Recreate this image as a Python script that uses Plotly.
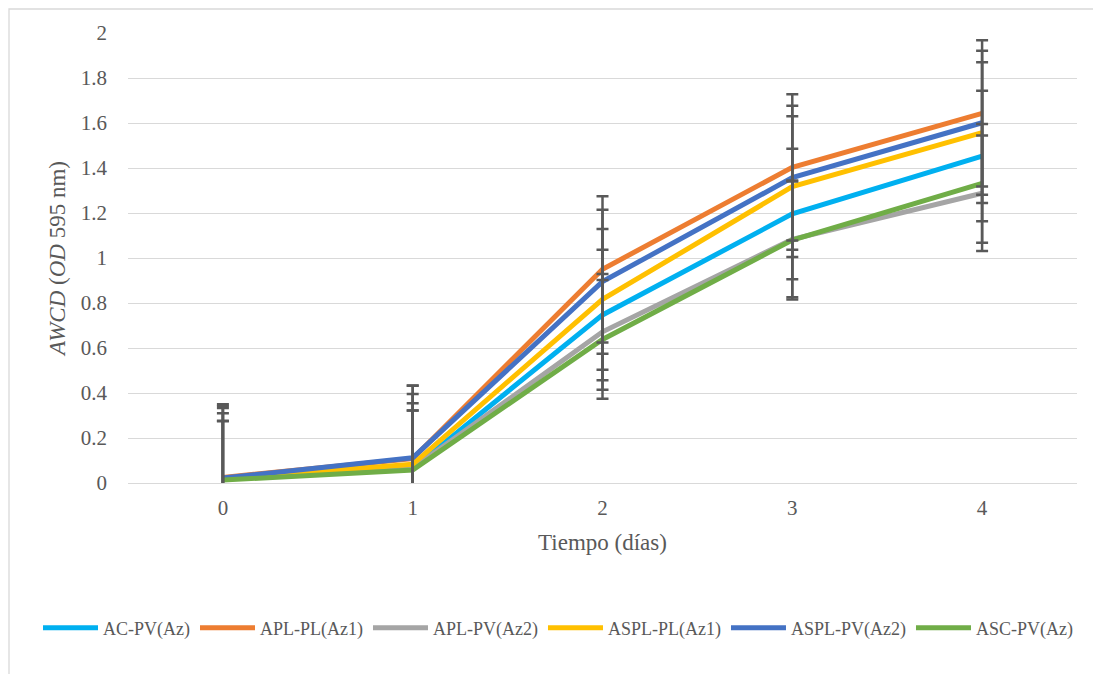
import plotly.graph_objects as go

days = ["0", "1", "2", "3", "4"]
series_names = ["AC-PV(Az)", "APL-PL(Az1)", "APL-PV(Az2)", "ASPL-PL(Az1)", "ASPL-PV(Az2)", "ASC-PV(Az)"]
colors = ["#00B0F0", "#ED7D31", "#A5A5A5", "#FFC000", "#4472C4", "#70AD47"]

ac_pv = [0.020, 0.065, 0.747, 1.196, 1.453]
apl_pl = [0.025, 0.108, 0.950, 1.403, 1.643]
apl_pv = [0.018, 0.065, 0.672, 1.083, 1.288]
aspl_pl = [0.020, 0.083, 0.816, 1.317, 1.557]
aspl_pv = [0.022, 0.112, 0.895, 1.357, 1.601]
asc_pv = [0.013, 0.058, 0.638, 1.080, 1.332]

err_ac_pv = [0.290] * 5
err_apl_pl = [0.325] * 5
err_apl_pv = [0.257] * 5
err_aspl_pl = [0.313] * 5
err_aspl_pv = [0.320] * 5
err_asc_pv = [0.264] * 5

values = [ac_pv, apl_pl, apl_pv, aspl_pl, aspl_pv, asc_pv]
errors = [err_ac_pv, err_apl_pl, err_apl_pv, err_aspl_pl, err_aspl_pv, err_asc_pv]

y_ticks = [0, 0.2, 0.4, 0.6, 0.8, 1, 1.2, 1.4, 1.6, 1.8, 2]
y_ticktext = ["0", "0.2", "0.4", "0.6", "0.8", "1", "1.2", "1.4", "1.6", "1.8", "2"]

FONT = "Liberation Serif, Times New Roman, serif"
TXT = "#595959"

# page has an 8px body margin; figure placed at (8, 8)
OFF = 8
PL, PR, PT, PB = 128, 1077, 33, 483  # plot area in page pixels
W, H = 1101 - OFF, 674 - OFF
pw, ph = PR - PL, PB - PT

fig = go.Figure()
for name, col, v in zip(series_names, colors, values):
    fig.add_trace(go.Scatter(
        x=days, y=v, name=name, mode="lines",
        line=dict(color=col, width=5, shape="linear"),
    ))
# error bars drawn on top of the lines
for name, v, e in zip(series_names, values, errors):
    fig.add_trace(go.Scatter(
        x=days, y=v, mode="markers", showlegend=False, hoverinfo="skip",
        marker=dict(size=1, color="rgba(0,0,0,0)"),
        error_y=dict(type="data", array=e, symmetric=True, color="#595959",
                     thickness=2.5, width=6),
    ))

fig.update_layout(
    width=W, height=H,
    margin=dict(l=PL - OFF, r=1101 - PR, t=PT - OFF, b=674 - PB, autoexpand=False),
    paper_bgcolor="white", plot_bgcolor="white",
    font=dict(family=FONT, color=TXT, size=21),
    showlegend=True,
    legend=dict(orientation="h", x=(38 - PL) / pw, xanchor="left",
                y=(PB - 628) / ph, yanchor="middle",
                font=dict(family=FONT, size=18, color=TXT), itemwidth=55,
                tracegroupgap=0),
    xaxis=dict(
        type="category", range=[-0.5, 4.5], showgrid=False, showline=False,
        zeroline=False, ticks="", ticklabelstandoff=10,
        tickfont=dict(size=21, color=TXT),
        title=dict(text="Tiempo (días)", font=dict(size=23, color=TXT), standoff=14),
    ),
    yaxis=dict(
        range=[0, 2], tickvals=y_ticks, ticktext=y_ticktext,
        showgrid=True, gridcolor="#D9D9D9", gridwidth=1.3,
        zeroline=True, zerolinecolor="#D9D9D9", zerolinewidth=1.3,
        showline=False, ticks="", ticklabelstandoff=20,
        tickfont=dict(size=21, color=TXT),
        title=dict(text="<i>AWCD</i> (<i>OD</i> 595 nm)", font=dict(size=23, color=TXT), standoff=8),
    ),
    shapes=[dict(type="rect", xref="paper", yref="paper",
                 x0=(OFF + 1 - PL) / pw, x1=1.2, y0=-0.6, y1=(PB - OFF - 1) / ph,
                 line=dict(color="#D9D9D9", width=1.3), fillcolor="rgba(0,0,0,0)",
                 layer="below")],
)

fig.write_html("out.html")
